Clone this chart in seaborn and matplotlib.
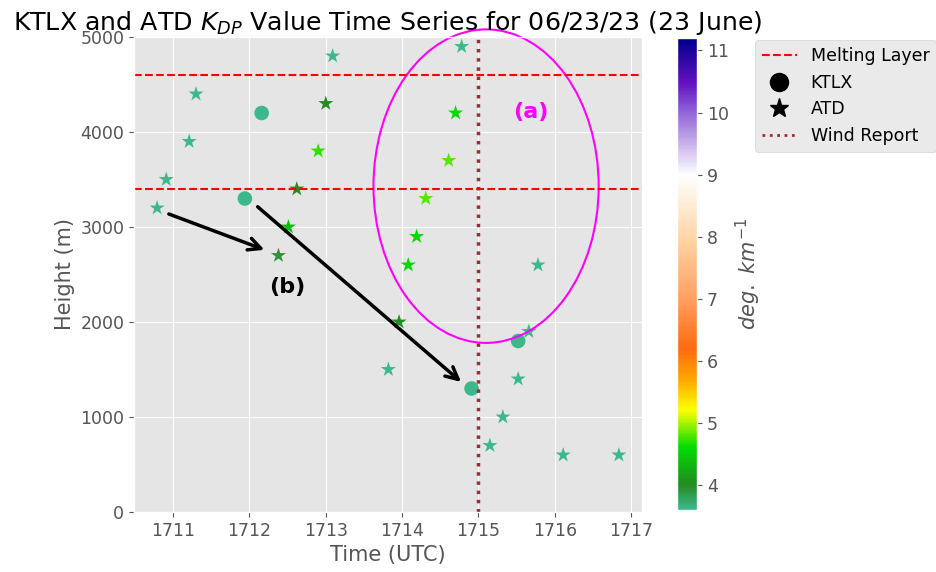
import numpy as np
import pandas as pd
import matplotlib
matplotlib.use("Agg")
import matplotlib.pyplot as plt
import seaborn as sns
from matplotlib.colors import LinearSegmentedColormap, Normalize
from matplotlib.cm import ScalarMappable
from matplotlib.lines import Line2D
from matplotlib.patches import Ellipse

plt.style.use("ggplot")

# ATD observations (time UTC as HHMM decimal, height m, KDP deg/km)
atd_time = [1710.79, 1710.91, 1711.21, 1711.30, 1713.09, 1713.00, 1712.90, 1712.62,
            1712.51, 1712.38, 1713.96, 1713.82, 1714.78, 1714.70, 1714.61, 1714.31,
            1714.19, 1714.08, 1715.78, 1715.66, 1715.52, 1715.32, 1715.15, 1716.11,
            1716.84]
atd_height = [3200, 3500, 3900, 4400, 4800, 4300, 3800, 3400,
              3000, 2700, 2000, 1500, 4900, 4200, 3700, 3300,
              2900, 2600, 2600, 1900, 1400, 1000, 700, 600,
              600]
atd_kdp = [3.6, 3.6, 3.6, 3.6, 3.6, 4.0, 4.7, 4.0,
           4.4, 3.9, 4.0, 3.6, 3.6, 4.6, 4.8, 4.8,
           4.6, 4.6, 3.6, 3.6, 3.6, 3.6, 3.6, 3.6,
           3.6]

# KTLX radar values
ktlx_time = [1712.16, 1711.94, 1715.52, 1714.91]
ktlx_height = [4200, 3300, 1800, 1300]
ktlx_kdp = [3.6, 3.6, 3.6, 3.6]

melting_layer = [4600, 3400]
wind_report_time = 1715.0
kdp_min, kdp_max = 3.6, 11.2

# KDP colour table
cmap_vals = [3.6, 4.0, 4.6, 5.2, 5.7, 6.2, 7.0, 8.0, 9.0, 10.0, 10.5, 11.2]
cmap_cols = ["#3cb88a", "#228b22", "#00dd00", "#ffff00", "#ffa500", "#ff6a10",
             "#ffa060", "#ffd6a8", "#ffffff", "#9366d8", "#6010c0", "#00008b"]
pos = [(v - kdp_min) / (kdp_max - kdp_min) for v in cmap_vals]
kdp_cmap = LinearSegmentedColormap.from_list("kdp", list(zip(pos, cmap_cols)))

atd = pd.DataFrame({"time": atd_time, "height": atd_height, "kdp": atd_kdp})
ktlx = pd.DataFrame({"time": ktlx_time, "height": ktlx_height, "kdp": ktlx_kdp})

fig = plt.figure(figsize=(9.37, 5.72), dpi=100)
ax = fig.add_axes([134 / 937, 60 / 572, 508 / 937, 475 / 572])
cax = fig.add_axes([677 / 937, 62 / 572, 20 / 937, 472 / 572])

sns.scatterplot(data=ktlx, x="time", y="height", hue="kdp", palette=kdp_cmap,
                hue_norm=(kdp_min, kdp_max), marker="o", s=110, linewidth=0,
                legend=False, ax=ax)
sns.scatterplot(data=atd, x="time", y="height", hue="kdp", palette=kdp_cmap,
                hue_norm=(kdp_min, kdp_max), marker="*", s=130, linewidth=0,
                legend=False, ax=ax)

for h in melting_layer:
    ax.axhline(h, color="red", linestyle="--", lw=1.5)
ax.axvline(wind_report_time, color="brown", linestyle=":", lw=2.5)

# highlight region (a)
ax.add_patch(Ellipse((1715.1, 3430), 2.95, 3300, fill=False, edgecolor="magenta",
                     lw=1.5, clip_on=False))
ax.text(1715.69, 4210, "(a)", color="magenta", fontsize=16, fontweight="bold",
        ha="center", va="center")
ax.text(1712.49, 2370, "(b)", color="black", fontsize=16, fontweight="bold",
        ha="center", va="center")
ax.annotate("", xy=(1712.23, 2750), xytext=(1710.91, 3147),
            arrowprops=dict(arrowstyle="->", color="black", lw=2.5, mutation_scale=22))
ax.annotate("", xy=(1714.8, 1350), xytext=(1712.08, 3232),
            arrowprops=dict(arrowstyle="->", color="black", lw=2.5, mutation_scale=22))

ax.set_ylim(0, 5000)
ax.set_xticks([1711, 1712, 1713, 1714, 1715, 1716, 1717])
ax.ticklabel_format(axis="x", useOffset=False)
ax.set_xlabel("Time (UTC)", fontsize=15)
ax.set_ylabel("Height (m)", fontsize=15)
ax.set_title("KTLX and ATD $K_{DP}$ Value Time Series for 06/23/23 (23 June)",
             fontsize=18.2, color="black", pad=2)
ax.tick_params(labelsize=12.5)

sm = ScalarMappable(norm=Normalize(kdp_min, kdp_max), cmap=kdp_cmap)
cb = fig.colorbar(sm, cax=cax)
cb.set_ticks([4, 5, 6, 7, 8, 9, 10, 11])
cb.ax.tick_params(labelsize=12.5)
cb.set_label(r"$deg.\ km^{-1}$", fontsize=15, color="#555555")

handles = [
    Line2D([], [], color="red", linestyle="--", lw=1.5, label="Melting Layer"),
    Line2D([], [], color="black", marker="o", linestyle="", markersize=13, label="KTLX"),
    Line2D([], [], color="black", marker="*", linestyle="", markersize=14, label="ATD"),
    Line2D([], [], color="brown", linestyle=":", lw=2, label="Wind Report"),
]
fig.legend(handles=handles, loc="upper left", bbox_to_anchor=(755 / 937, 532 / 572),
           borderaxespad=0, fontsize=12.5)

fig.savefig("out.png", dpi=100)
